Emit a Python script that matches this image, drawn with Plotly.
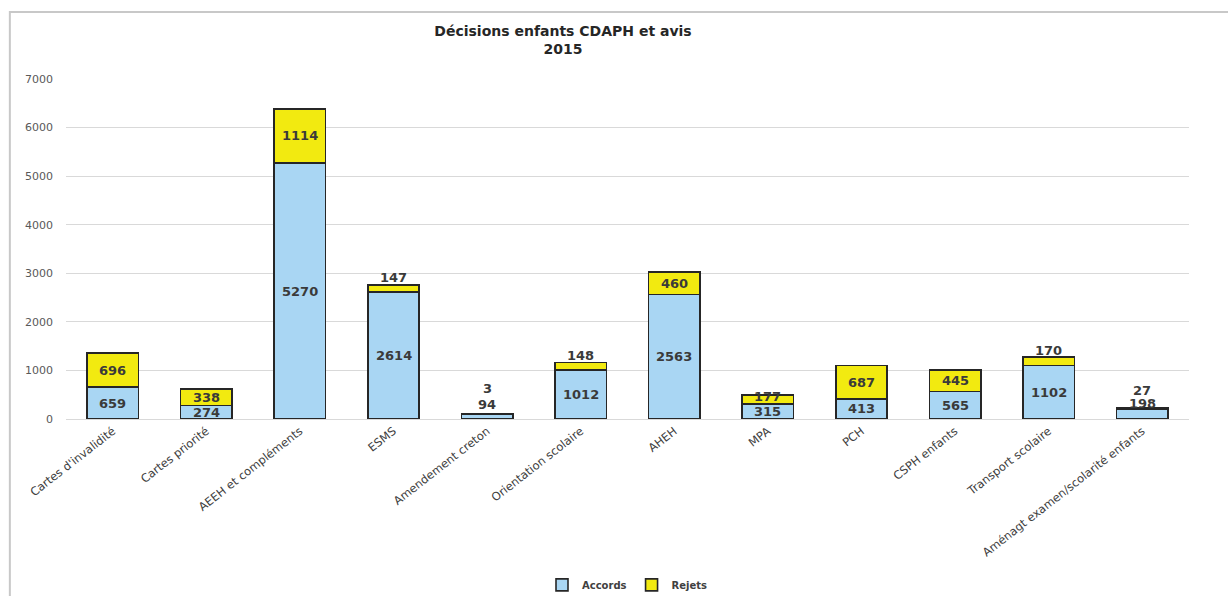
import plotly.graph_objects as go

categories = ["Cartes d'invalidité", "Cartes priorité", "AEEH et compléments", "ESMS",
              "Amendement creton", "Orientation scolaire", "AHEH", "MPA", "PCH",
              "CSPH enfants", "Transport scolaire", "Aménagt examen/scolarité enfants"]
accords = [659, 274, 5270, 2614, 94, 1012, 2563, 315, 413, 565, 1102, 198]
rejets = [696, 338, 1114, 147, 3, 148, 460, 177, 687, 445, 170, 27]
y_ticks = [0, 1000, 2000, 3000, 4000, 5000, 6000, 7000]

# label placement (style): None = centred in segment, number = px above stack top
acc_above = [None, None, None, None, 10, None, None, None, None, None, None, 5]
rej_above = [None, None, None, 7, 26, 7, None, None, None, None, 7, 18]
rej_shift = [0, 0, 0, 0, 0, 0, 0, 3, 0, 0, 0, 0]

BLUE = "#A9D6F3"
YELLOW = "#F2EA10"
OUTLINE = "#262626"

fig = go.Figure()
fig.add_trace(go.Bar(x=categories, y=accords, name="Accords",
                     marker=dict(color=BLUE, line=dict(color=OUTLINE, width=1.6))))
fig.add_trace(go.Bar(x=categories, y=rejets, name="Rejets",
                     marker=dict(color=YELLOW, line=dict(color=OUTLINE, width=1.6))))

lab_font = dict(family="DejaVu Sans", size=13, color="#3a3a3a", weight="bold")
ann = []
for i, c in enumerate(categories):
    a, r = accords[i], rejets[i]
    top = a + r
    if acc_above[i] is None:
        ann.append(dict(x=c, y=a / 2, text=str(a), showarrow=False, font=lab_font))
    else:
        ann.append(dict(x=c, y=top, yshift=acc_above[i], text=str(a), showarrow=False, font=lab_font))
    if rej_above[i] is None:
        ann.append(dict(x=c, y=a + r / 2, yshift=rej_shift[i], text=str(r), showarrow=False, font=lab_font))
    else:
        ann.append(dict(x=c, y=top, yshift=rej_above[i], text=str(r), showarrow=False, font=lab_font))

fig.update_layout(
    width=1228, height=596,
    barmode="stack", bargap=0.45,
    plot_bgcolor="white", paper_bgcolor="white",
    margin=dict(l=66, r=39, t=79, b=177, autoexpand=False),
    title=dict(text="Décisions enfants CDAPH et avis<br>2015",
               x=563 / 1228, xanchor="center", y=0.94, yanchor="top",
               font=dict(family="DejaVu Sans", size=14, color="#262626", weight="bold")),
    xaxis=dict(tickangle=-38, tickfont=dict(family="DejaVu Sans", size=11.5, color="#404040"),
               showline=True, linecolor="#d9d9d9", linewidth=1, ticks="", automargin=False),
    yaxis=dict(range=[0, 7000], tickvals=y_ticks, showgrid=True, gridcolor="#d9d9d9",
               zeroline=False, tickfont=dict(family="DejaVu Sans", size=11, color="#595959"),
               ticklabelstandoff=12, automargin=False),
    legend=dict(orientation="h", x=0.5, xanchor="center", y=-0.488, yanchor="middle",
                font=dict(family="DejaVu Sans", size=10, color="#404040", weight="bold"),
                traceorder="normal", itemwidth=30),
    annotations=ann,
    shapes=[dict(type="rect", xref="paper", yref="paper",
                 x0=-0.05, x1=1.2, y0=-1.6, y1=1.197,
                 line=dict(color="#c8c8c8", width=2), layer="below")],
)

fig.write_html("out.html")
